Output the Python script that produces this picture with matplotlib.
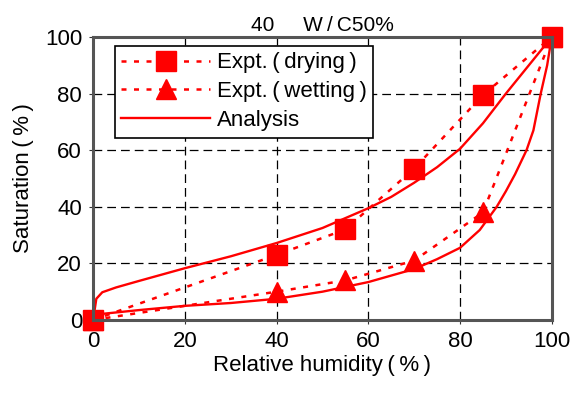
import matplotlib
matplotlib.use("Agg")
import matplotlib.pyplot as plt

plt.rcParams['font.family'] = ['Liberation Sans', 'DejaVu Sans', 'Noto Sans CJK JP']

# experiment points
rh_expt = [0, 40, 55, 70, 85, 100]
sat_drying = [0, 23, 32, 53.5, 79.5, 100]
sat_wetting = [0, 10, 14, 21, 38, 100]

# analysis curves
rh_dry_calc = [0, 0.7, 2, 5, 10, 20, 30, 40, 50, 60, 65, 70, 75, 80, 85, 90, 95, 100]
sat_dry_calc = [0, 7.5, 9.8, 11.5, 13.8, 18.3, 22.5, 27.2, 32.5, 39.5, 43.5, 48.5, 54, 60.5, 69.5, 80, 90, 100]
rh_wet_calc = [0, 1, 10, 20, 30, 40, 50, 60, 70, 75, 80, 84.3, 88, 90, 92, 94.5, 96, 97.6, 99, 100]
sat_wet_calc = [0, 2, 3.5, 5, 6, 7.5, 10, 13.4, 18, 21.5, 25.5, 31.8, 40, 45.5, 51.5, 60, 67, 80, 90, 100]

fig = plt.figure(figsize=(5.82, 3.98), dpi=100)
ax = fig.add_axes([0.160, 0.196, 0.788, 0.711])

red = '#ff0000'
ax.plot(rh_expt, sat_drying, color=red, linestyle=(0, (2, 3)), linewidth=1.8,
        marker='s', markersize=14.5, label='Expt.\u2009(\u2009drying\u2009)')
ax.plot(rh_expt, sat_wetting, color=red, linestyle=(0, (2, 3)), linewidth=1.8,
        marker='^', markersize=14.5, label='Expt.\u2009(\u2009wetting\u2009)')
ax.plot(rh_dry_calc, sat_dry_calc, color=red, linewidth=1.7, label='Analysis')
ax.plot(rh_wet_calc, sat_wet_calc, color=red, linewidth=1.7)

ax.set_xlim(0, 100)
ax.set_ylim(0, 100)
ax.set_xticks(range(0, 101, 20))
ax.set_yticks(range(0, 101, 20))
ax.grid(True, color='black', linestyle=(0, (7, 4)), linewidth=0.9)
ax.tick_params(labelsize=16, direction='out', length=3, color='#333333', pad=5)
for s in ax.spines.values():
    s.set_color('#555555')
    s.set_linewidth(2.2)
for ln in ax.lines:
    ln.set_clip_on(False)

ax.set_xlabel('Relative humidity\u2009(\u2009%\u2009)', fontsize=16, labelpad=2)
ax.set_ylabel('Saturation\u2009(\u2009%\u2009)', fontsize=16, labelpad=8)
ax.set_title('40     W\u2009/\u2009C50%', fontsize=15, pad=4)

leg = ax.legend(loc='upper left', bbox_to_anchor=(0.037, 0.985), fontsize=16,
                frameon=True, fancybox=False, edgecolor='black', framealpha=1,
                handlelength=4.0, borderpad=0.3, labelspacing=0.35, handletextpad=0.3,
                borderaxespad=0.2)
leg.get_frame().set_linewidth(1.2)

fig.savefig('out.png', dpi=100)
